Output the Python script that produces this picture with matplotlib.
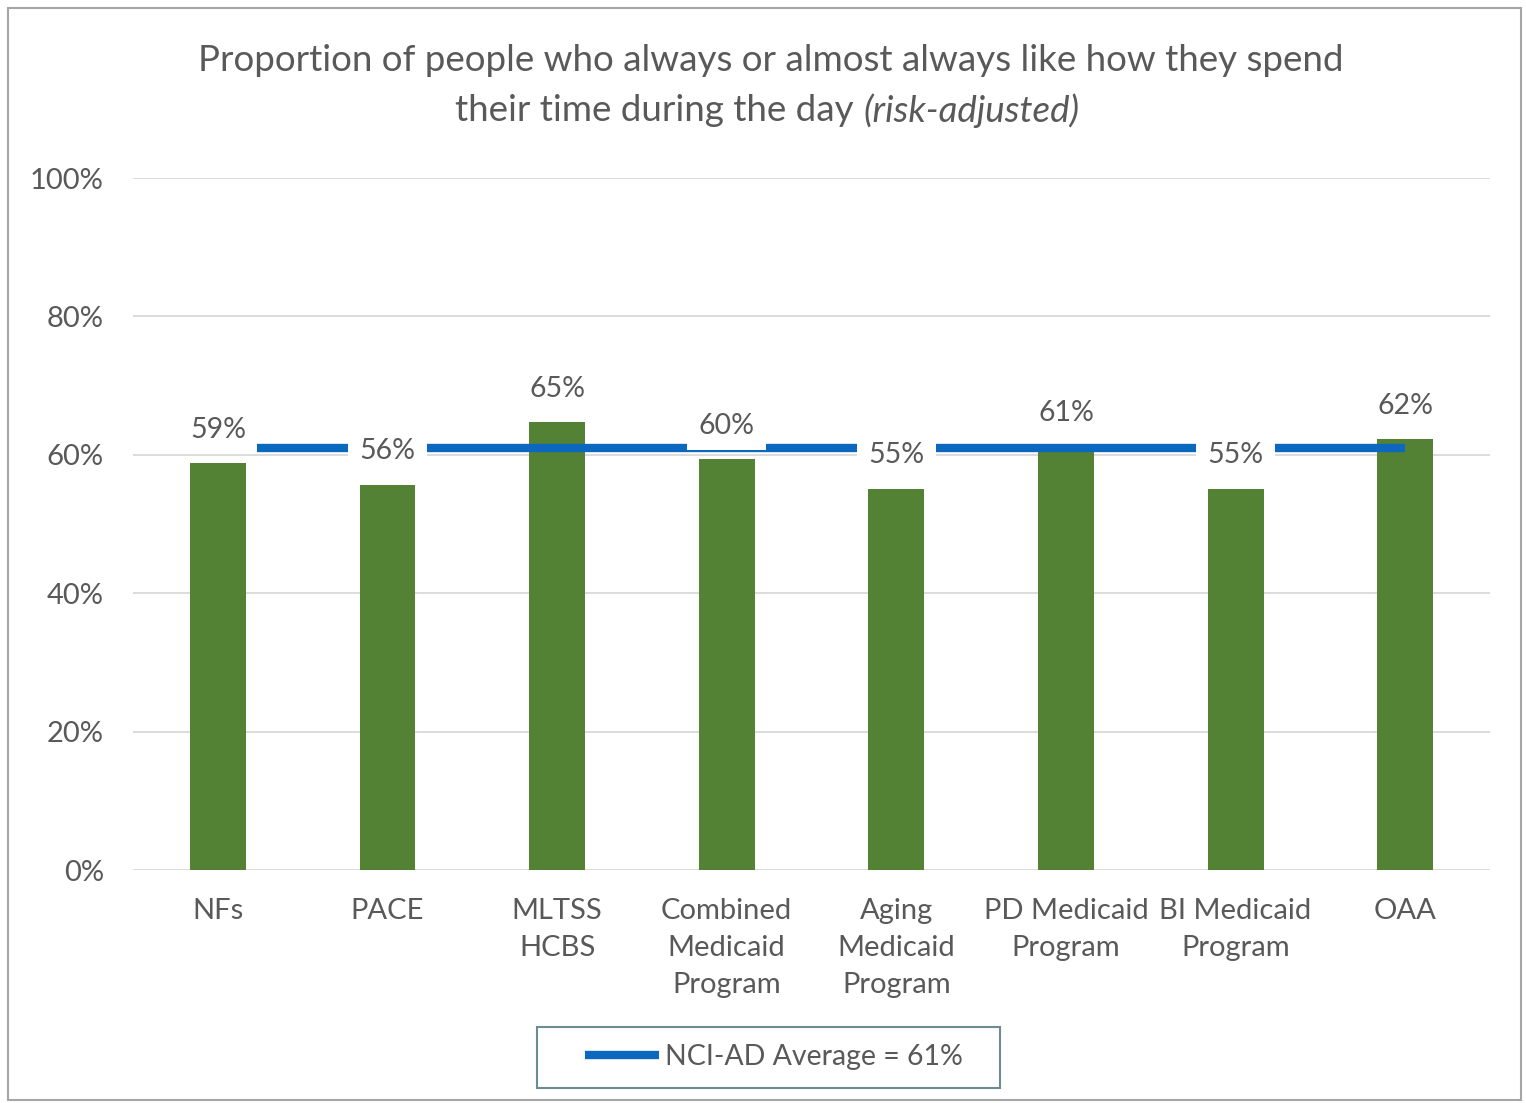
import matplotlib.pyplot as plt
from matplotlib.patches import Rectangle

categories = ['NFs', 'PACE', 'MLTSS\nHCBS', 'Combined\nMedicaid\nProgram',
              'Aging\nMedicaid\nProgram', 'PD Medicaid\nProgram',
              'BI Medicaid\nProgram', 'OAA']
values = [59, 56, 65, 60, 55, 61, 55, 62]
bar_heights = [58.8, 55.7, 64.7, 59.4, 55.1, 61.2, 55.1, 62.3]
average = 61
y_ticks = [0, 20, 40, 60, 80, 100]

plt.rcParams['font.family'] = ['Lato', 'DejaVu Sans']
GREY = '#595959'

fig = plt.figure(figsize=(15.26, 11.03), dpi=100)
ax = fig.add_axes([0.0872, 0.2112, 0.8892, 0.6274])

x = list(range(len(categories)))
ax.bar(x, bar_heights, width=0.33, color='#548235', zorder=2)

# linia średniej
ax.plot([x[0], x[-1]], [average, average], color='#0C68BE', lw=6,
        solid_capstyle='butt', zorder=3, label='NCI-AD Average = 61%')

for xi, h, v in zip(x, bar_heights, values):
    ax.annotate(f'{v}%', (xi, h), xytext=(0, 24), textcoords='offset points',
                ha='center', va='center', fontsize=20.5, color=GREY, zorder=5,
                bbox=dict(boxstyle='square,pad=0.4', fc='white', ec='none'))

ax.set_xlim(-0.5, len(categories) - 0.5)
ax.set_ylim(0, 100)
ax.set_yticks(y_ticks)
ax.set_yticklabels([f'{t}%' for t in y_ticks])
ax.set_xticks(x)
ax.set_xticklabels(categories, linespacing=1.52)
ax.tick_params(length=0, labelsize=21, labelcolor=GREY)
ax.tick_params(axis='y', pad=21)
ax.tick_params(axis='x', pad=20)
for lab in ax.get_xticklabels():
    lab.set_verticalalignment('top')
ax.grid(axis='y', color='#D9D9D9', lw=1.3, zorder=0)
ax.set_axisbelow(True)
for s in ax.spines.values():
    s.set_visible(False)

fig.text(0.505, 0.945, 'Proportion of people who always or almost always like how they spend',
         ha='center', va='center', fontsize=26.5, color=GREY)
fig.text(0.5655, 0.9, 'their time during the day ', ha='right', va='center',
         fontsize=26.5, color=GREY)
fig.text(0.5655, 0.9, '(risk-adjusted)', ha='left', va='center',
         fontsize=26.5, color=GREY, style='italic')

leg = fig.legend(loc='center', bbox_to_anchor=(0.507, 0.0417), frameon=False,
                 fontsize=20.5, labelcolor=GREY,
                 handlelength=2.6, handletextpad=0.2)

# ramka legendy
fig.patches.append(Rectangle((537 / 1526, 1 - 1088 / 1103), 463 / 1526, 61 / 1103,
                             transform=fig.transFigure, fill=False,
                             ec='#6E8B91', lw=1.5))
# ramka całego wykresu
fig.patches.append(Rectangle((0.005, 0.003), 0.992, 0.99, transform=fig.transFigure,
                             fill=False, ec='#A6A6A6', lw=1.5))

fig.savefig('out.png', dpi=100)
